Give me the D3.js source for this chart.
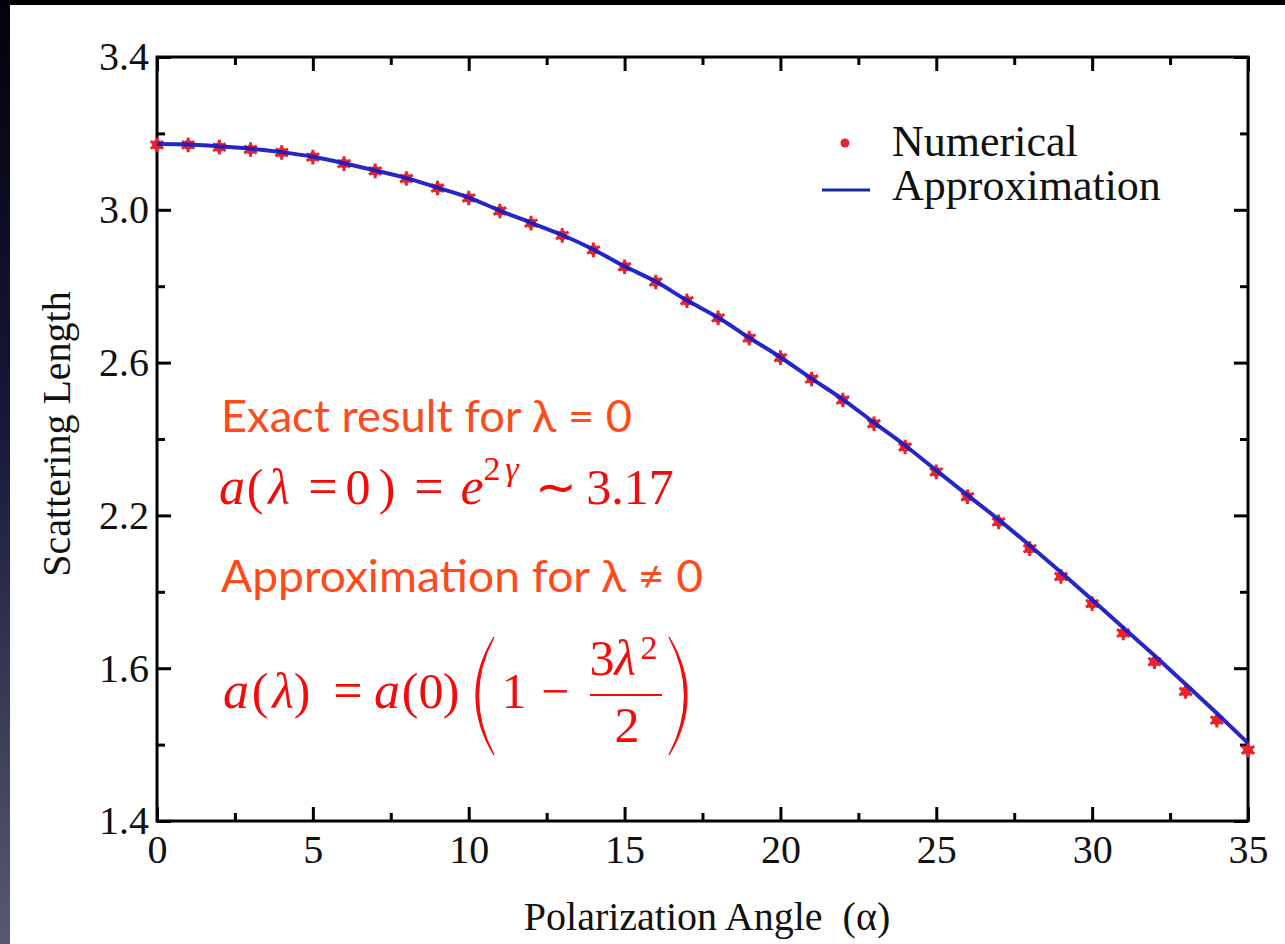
<!DOCTYPE html>
<html>
<head>
<meta charset="utf-8">
<script src="https://cdn.jsdelivr.net/npm/d3@7"></script>
<style>
  html, body { margin: 0; padding: 0; background: #000; overflow: hidden; }
  svg { display: block; }
</style>
</head>
<body>
<svg id="chart" width="1285" height="944"></svg>
<script>
// Polarization angle in degrees
const angles = [0, 1, 2, 3, 4, 5, 6, 7, 8, 9, 10, 11, 12, 13, 14, 15, 16, 17,
                18, 19, 20, 21, 22, 23, 24, 25, 26, 27, 28, 29, 30, 31, 32, 33, 34, 35];

// Scattering length from the numerical solution
const numerical = [3.170, 3.170, 3.164, 3.158, 3.150, 3.138, 3.121, 3.102, 3.082, 3.057,
                   3.031, 2.997, 2.965, 2.933, 2.895, 2.851, 2.811, 2.762, 2.717, 2.664,
                   2.613, 2.557, 2.502, 2.440, 2.379, 2.314, 2.249, 2.183, 2.113, 2.040,
                   1.969, 1.892, 1.817, 1.739, 1.664, 1.586];

// Scattering length from the small-angle approximation
const approximation = [3.172, 3.171, 3.166, 3.160, 3.151, 3.139, 3.122, 3.103, 3.083, 3.058,
                       3.032, 2.998, 2.966, 2.934, 2.896, 2.852, 2.812, 2.763, 2.718, 2.665,
                       2.614, 2.558, 2.504, 2.443, 2.383, 2.318, 2.253, 2.189, 2.121, 2.051,
                       1.979, 1.906, 1.833, 1.758, 1.682, 1.604];

const xMajorTicks = [0, 5, 10, 15, 20, 25, 30, 35];
const xMinorTicks = [2.5, 7.5, 12.5, 17.5, 22.5, 27.5, 32.5];
const yMajorTicks = [3.4, 3.0, 2.6, 2.2, 1.8, 1.4];
const yTickLabels = ["3.4", "3.0", "2.6", "2.2", "1.6", "1.4"];
const yMinorTicks = [3.2, 2.8, 2.4, 2.0, 1.6];

const seriesNames = ["Numerical", "Approximation"];

(function draw() {
  const svg = d3.select("#chart");
  const W = 1285, H = 944;

  // Slide backdrop: dark frame with a bluish gradient strip on the left
  const defs = svg.append("defs");
  const grad = defs.append("linearGradient")
    .attr("id", "edge").attr("x1", 0).attr("y1", 0).attr("x2", 0).attr("y2", 1);
  grad.append("stop").attr("offset", "0%").attr("stop-color", "#02020a");
  grad.append("stop").attr("offset", "45%").attr("stop-color", "#17183a");
  grad.append("stop").attr("offset", "100%").attr("stop-color", "#575a6e");

  svg.append("rect").attr("width", W).attr("height", H).attr("fill", "#000");
  svg.append("rect").attr("x", 0).attr("y", 0).attr("width", 10).attr("height", H).attr("fill", "url(#edge)");
  svg.append("rect").attr("x", 10).attr("y", 5).attr("width", W - 10).attr("height", H - 5).attr("fill", "#fff");

  // Plot area
  const pl = 157, pr = 1248, pt = 57, pb = 821;

  const x = d3.scaleLinear().domain([0, 35]).range([pl, pr]);
  const y = d3.scaleLinear().domain([1.4, 3.4]).range([pb, pt]);

  const serif = "'Liberation Serif', 'Times New Roman', serif";

  // Axes with inward ticks on all four sides
  function styleAxis(g) {
    g.select(".domain").remove();
    g.selectAll(".tick line").attr("stroke", "#000").attr("stroke-width", 3);
    g.selectAll(".tick text").attr("font-family", serif).attr("font-size", 40).attr("fill", "#111");
  }

  svg.append("g").attr("transform", `translate(0,${pb})`)
    .call(d3.axisBottom(x).tickValues(xMajorTicks).tickSize(-14).tickSizeOuter(0).tickPadding(14)
          .tickFormat(d3.format("d")))
    .call(styleAxis);
  svg.append("g").attr("transform", `translate(0,${pb})`)
    .call(d3.axisBottom(x).tickValues(xMinorTicks).tickSize(-8).tickSizeOuter(0).tickFormat(""))
    .call(styleAxis);
  svg.append("g").attr("transform", `translate(0,${pt})`)
    .call(d3.axisTop(x).tickValues(xMajorTicks).tickSize(-14).tickSizeOuter(0).tickFormat(""))
    .call(styleAxis);
  svg.append("g").attr("transform", `translate(0,${pt})`)
    .call(d3.axisTop(x).tickValues(xMinorTicks).tickSize(-8).tickSizeOuter(0).tickFormat(""))
    .call(styleAxis);

  svg.append("g").attr("transform", `translate(${pl},0)`)
    .call(d3.axisLeft(y).tickValues(yMajorTicks).tickSize(-14).tickSizeOuter(0).tickPadding(8)
          .tickFormat((d, i) => yTickLabels[i]))
    .call(styleAxis);
  svg.append("g").attr("transform", `translate(${pl},0)`)
    .call(d3.axisLeft(y).tickValues(yMinorTicks).tickSize(-8).tickSizeOuter(0).tickFormat(""))
    .call(styleAxis);
  svg.append("g").attr("transform", `translate(${pr},0)`)
    .call(d3.axisRight(y).tickValues(yMajorTicks).tickSize(-14).tickSizeOuter(0).tickFormat(""))
    .call(styleAxis);
  svg.append("g").attr("transform", `translate(${pr},0)`)
    .call(d3.axisRight(y).tickValues(yMinorTicks).tickSize(-8).tickSizeOuter(0).tickFormat(""))
    .call(styleAxis);

  // Frame
  svg.append("rect")
    .attr("x", pl).attr("y", pt).attr("width", pr - pl).attr("height", pb - pt)
    .attr("fill", "none").attr("stroke", "#000").attr("stroke-width", 3);

  // Numerical points
  const pts = angles.map((a, i) => ({ a, v: numerical[i] }));
  const marker = svg.append("g");
  marker.selectAll("circle").data(pts).join("circle")
    .attr("cx", d => x(d.a)).attr("cy", d => y(d.v)).attr("r", 5)
    .attr("fill", "#e8232b");
  marker.selectAll("path").data(pts).join("path")
    .attr("transform", d => `translate(${x(d.a)},${y(d.v)})`)
    .attr("d", d3.symbol(d3.symbolAsterisk, 150)())
    .attr("stroke", "#e8232b").attr("stroke-width", 3).attr("fill", "none");

  // Approximation curve
  const line = d3.line().x((d, i) => x(angles[i])).y(d => y(d)).curve(d3.curveMonotoneX);
  svg.append("path").datum(approximation)
    .attr("d", line)
    .attr("fill", "none").attr("stroke", "#1a1cc2").attr("stroke-width", 4)
    .attr("stroke-opacity", 0.95).attr("stroke-linejoin", "round");

  // Legend
  svg.append("circle").attr("cx", 845).attr("cy", 143).attr("r", 4.5).attr("fill", "#e8232b");
  svg.append("line").attr("x1", 822).attr("x2", 870).attr("y1", 190).attr("y2", 190)
    .attr("stroke", "#1a2a9e").attr("stroke-width", 3);
  svg.append("text").attr("x", 892).attr("y", 156).text(seriesNames[0])
    .attr("font-family", serif).attr("font-size", 44).attr("fill", "#111");
  svg.append("text").attr("x", 892).attr("y", 200).text(seriesNames[1])
    .attr("font-family", serif).attr("font-size", 44).attr("fill", "#111");

  // Axis titles
  svg.append("text").attr("x", 707).attr("y", 930).attr("text-anchor", "middle")
    .style("white-space", "pre")
    .attr("font-family", serif).attr("font-size", 40).attr("fill", "#111")
    .text("Polarization Angle  (α)");
  svg.append("text").attr("transform", "translate(70,434) rotate(-90)").attr("text-anchor", "middle")
    .attr("font-family", serif).attr("font-size", 40).attr("fill", "#111")
    .text("Scattering Length");

  // Annotations
  const sans = "Lato, 'Open Sans', sans-serif";
  const orange = "#ff4a1c";
  const red = "#f50a0a";

  svg.append("text").attr("x", 221).attr("y", 432).attr("textLength", 411)
    .attr("lengthAdjust", "spacingAndGlyphs")
    .attr("font-family", sans).attr("font-size", 45).attr("fill", orange)
    .text("Exact result for λ = 0");
  svg.append("text").attr("x", 221).attr("y", 592).attr("textLength", 482)
    .attr("lengthAdjust", "spacingAndGlyphs")
    .attr("font-family", sans).attr("font-size", 45).attr("fill", orange)
    .text("Approximation for λ ≠ 0");

  // Formula glyphs: [text, centre x, baseline y, size, italic]
  const eq1 = [
    ["a", 232, 504, 52, true], ["(", 255, 504, 50, false], ["λ", 279, 504, 50, true],
    ["=", 323, 504, 52, false], ["0", 358, 504, 50, false], [")", 387, 504, 50, false],
    ["=", 429, 504, 52, false], ["e", 472, 504, 52, true], ["2", 492, 480, 34, false],
    ["γ", 512, 480, 34, true], ["∼", 556, 504, 50, false], ["3.17", 630, 504, 50, false]
  ];
  const eq2 = [
    ["a", 236, 708, 52, true], ["(", 260, 708, 50, false], ["λ", 283, 708, 50, true],
    [")", 302, 708, 50, false], ["=", 348, 708, 52, false], ["a", 387, 708, 52, true],
    ["(", 410, 708, 50, false], ["0", 431, 708, 50, false], [")", 451, 708, 50, false],
    ["1", 514, 708, 50, false], ["−", 555, 708, 50, false], ["3", 602, 675, 50, false],
    ["λ", 625, 675, 50, true], ["2", 649, 659, 34, false], ["2", 627, 742, 50, false]
  ];
  svg.append("g").selectAll("text").data(eq1.concat(eq2)).join("text")
    .attr("x", d => d[1]).attr("y", d => d[2]).attr("text-anchor", "middle")
    .style("font-family", "'Liberation Serif', serif")
    .attr("font-size", d => d[3])
    .attr("font-style", d => d[4] ? "italic" : "normal")
    .attr("fill", red).text(d => d[0]);

  // Fraction bar and large parentheses
  svg.append("line").attr("x1", 590).attr("x2", 662).attr("y1", 695).attr("y2", 695)
    .attr("stroke", red).attr("stroke-width", 2.2);
  svg.append("path").attr("d", "M494,637 Q458,696 494,755 Q463,696 494,637 Z")
    .attr("fill", red).attr("stroke", red).attr("stroke-width", 1.2);
  svg.append("path").attr("d", "M669,637 Q705,696 669,755 Q700,696 669,637 Z")
    .attr("fill", red).attr("stroke", red).attr("stroke-width", 1.2);
})();
</script>
</body>
</html>
